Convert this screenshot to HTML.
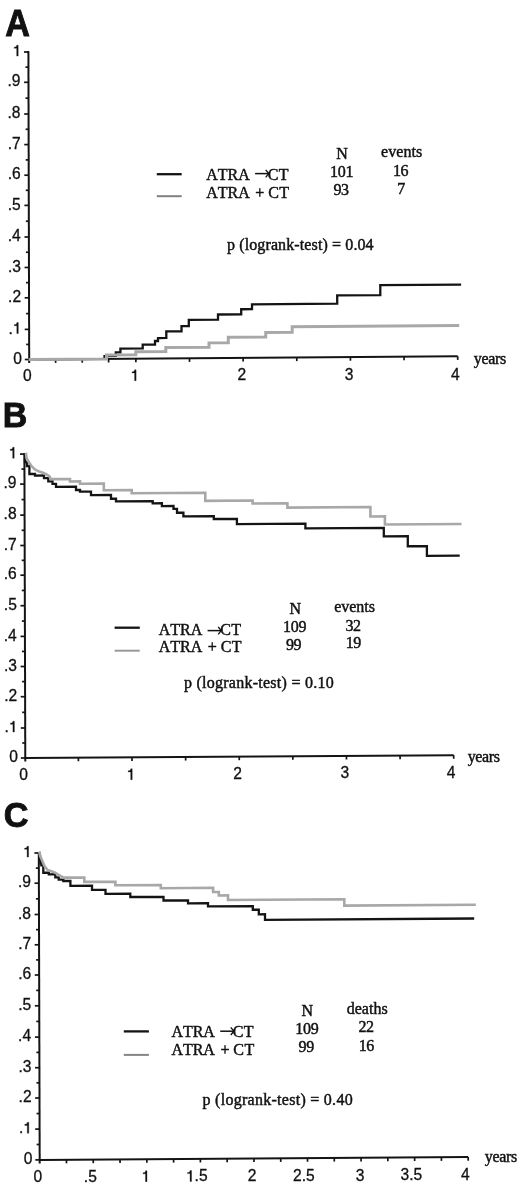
<!DOCTYPE html>
<html><head><meta charset="utf-8"><title>Cumulative incidence and survival curves</title>
<style>html,body{margin:0;padding:0;background:#fff;}svg{display:block;}text{font-kerning:none;font-feature-settings:"kern" 0, "liga" 0;}</style></head>
<body>
<svg width="520" height="1186" viewBox="0 0 520 1186">
<rect width="520" height="1186" fill="#fff"/>
<g opacity="0.999">
<text transform="matrix(0.9481 0 0 1.0053 5.20 35.55)" font-family='"Liberation Sans", sans-serif' font-size="36" font-weight="bold" fill="#111" stroke="#111" stroke-width="0.9">A</text>
<line x1="28.40" y1="51.00" x2="29.20" y2="363.10" stroke="#141414" stroke-width="2.00"/>
<line x1="24.00" y1="52.00" x2="28.40" y2="52.00" stroke="#141414" stroke-width="1.70"/>
<line x1="25.44" y1="67.15" x2="28.44" y2="67.15" stroke="#141414" stroke-width="1.70"/>
<polygon points="18.20,45.13 18.20,56.10 16.69,56.10 16.69,48.30 14.18,48.30 14.18,47.18 15.25,47.08 16.06,46.74 16.50,46.12 16.78,45.13" fill="#111" stroke="#111" stroke-width="0.30" stroke-linejoin="round"/>
<line x1="24.08" y1="82.30" x2="28.48" y2="82.30" stroke="#141414" stroke-width="1.70"/>
<line x1="25.52" y1="98.15" x2="28.52" y2="98.15" stroke="#141414" stroke-width="1.70"/>
<text x="7.51" y="86.40" font-family='"Liberation Sans", sans-serif' font-size="15.60" fill="#111" stroke="#111" stroke-width="0.30">.</text>
<text x="11.84" y="86.40" font-family='"Liberation Sans", sans-serif' font-size="15.60" fill="#111" stroke="#111" stroke-width="0.30">9</text>
<line x1="24.16" y1="114.00" x2="28.56" y2="114.00" stroke="#141414" stroke-width="1.70"/>
<line x1="25.60" y1="129.30" x2="28.60" y2="129.30" stroke="#141414" stroke-width="1.70"/>
<text x="7.53" y="118.10" font-family='"Liberation Sans", sans-serif' font-size="15.60" fill="#111" stroke="#111" stroke-width="0.30">.</text>
<text x="11.86" y="118.10" font-family='"Liberation Sans", sans-serif' font-size="15.60" fill="#111" stroke="#111" stroke-width="0.30">8</text>
<line x1="24.24" y1="144.60" x2="28.64" y2="144.60" stroke="#141414" stroke-width="1.70"/>
<line x1="25.68" y1="159.90" x2="28.68" y2="159.90" stroke="#141414" stroke-width="1.70"/>
<text x="7.72" y="148.70" font-family='"Liberation Sans", sans-serif' font-size="15.60" fill="#111" stroke="#111" stroke-width="0.30">.</text>
<text x="12.05" y="148.70" font-family='"Liberation Sans", sans-serif' font-size="15.60" fill="#111" stroke="#111" stroke-width="0.30">7</text>
<line x1="24.32" y1="175.20" x2="28.72" y2="175.20" stroke="#141414" stroke-width="1.70"/>
<line x1="25.76" y1="190.30" x2="28.76" y2="190.30" stroke="#141414" stroke-width="1.70"/>
<text x="7.70" y="179.30" font-family='"Liberation Sans", sans-serif' font-size="15.60" fill="#111" stroke="#111" stroke-width="0.30">.</text>
<text x="12.03" y="179.30" font-family='"Liberation Sans", sans-serif' font-size="15.60" fill="#111" stroke="#111" stroke-width="0.30">6</text>
<line x1="24.40" y1="205.40" x2="28.80" y2="205.40" stroke="#141414" stroke-width="1.70"/>
<line x1="25.84" y1="221.20" x2="28.84" y2="221.20" stroke="#141414" stroke-width="1.70"/>
<text x="7.74" y="209.50" font-family='"Liberation Sans", sans-serif' font-size="15.60" fill="#111" stroke="#111" stroke-width="0.30">.</text>
<text x="12.08" y="209.50" font-family='"Liberation Sans", sans-serif' font-size="15.60" fill="#111" stroke="#111" stroke-width="0.30">5</text>
<line x1="24.48" y1="237.00" x2="28.88" y2="237.00" stroke="#141414" stroke-width="1.70"/>
<line x1="25.92" y1="252.25" x2="28.92" y2="252.25" stroke="#141414" stroke-width="1.70"/>
<text x="7.63" y="241.10" font-family='"Liberation Sans", sans-serif' font-size="15.60" fill="#111" stroke="#111" stroke-width="0.30">.</text>
<text x="11.96" y="241.10" font-family='"Liberation Sans", sans-serif' font-size="15.60" fill="#111" stroke="#111" stroke-width="0.30">4</text>
<line x1="24.56" y1="267.50" x2="28.96" y2="267.50" stroke="#141414" stroke-width="1.70"/>
<line x1="26.00" y1="282.65" x2="29.00" y2="282.65" stroke="#141414" stroke-width="1.70"/>
<text x="7.94" y="271.60" font-family='"Liberation Sans", sans-serif' font-size="15.60" fill="#111" stroke="#111" stroke-width="0.30">.</text>
<text x="12.27" y="271.60" font-family='"Liberation Sans", sans-serif' font-size="15.60" fill="#111" stroke="#111" stroke-width="0.30">3</text>
<line x1="24.64" y1="297.80" x2="29.04" y2="297.80" stroke="#141414" stroke-width="1.70"/>
<line x1="26.08" y1="313.60" x2="29.08" y2="313.60" stroke="#141414" stroke-width="1.70"/>
<text x="8.11" y="301.90" font-family='"Liberation Sans", sans-serif' font-size="15.60" fill="#111" stroke="#111" stroke-width="0.30">.</text>
<text x="12.45" y="301.90" font-family='"Liberation Sans", sans-serif' font-size="15.60" fill="#111" stroke="#111" stroke-width="0.30">2</text>
<line x1="24.72" y1="329.40" x2="29.12" y2="329.40" stroke="#141414" stroke-width="1.70"/>
<line x1="26.16" y1="344.45" x2="29.16" y2="344.45" stroke="#141414" stroke-width="1.70"/>
<text x="8.39" y="333.50" font-family='"Liberation Sans", sans-serif' font-size="15.60" fill="#111" stroke="#111" stroke-width="0.30">.</text>
<polygon points="18.32,322.53 18.32,333.50 16.81,333.50 16.81,325.70 14.30,325.70 14.30,324.58 15.37,324.48 16.18,324.14 16.62,323.52 16.90,322.53" fill="#111" stroke="#111" stroke-width="0.30" stroke-linejoin="round"/>
<line x1="24.80" y1="359.50" x2="29.20" y2="359.50" stroke="#141414" stroke-width="1.70"/>
<text x="13.13" y="363.60" font-family='"Liberation Sans", sans-serif' font-size="15.60" fill="#111" stroke="#111" stroke-width="0.30">0</text>
<line x1="28.60" y1="359.50" x2="457.70" y2="356.30" stroke="#141414" stroke-width="2.00"/>
<line x1="55.60" y1="359.30" x2="55.60" y2="362.90" stroke="#141414" stroke-width="1.70"/>
<line x1="108.60" y1="358.90" x2="108.60" y2="362.50" stroke="#141414" stroke-width="1.70"/>
<line x1="82.24" y1="359.10" x2="82.24" y2="362.70" stroke="#141414" stroke-width="1.70"/>
<line x1="135.88" y1="358.70" x2="135.88" y2="362.30" stroke="#141414" stroke-width="1.70"/>
<line x1="189.51" y1="358.30" x2="189.51" y2="361.90" stroke="#141414" stroke-width="1.70"/>
<line x1="243.15" y1="357.90" x2="243.15" y2="361.50" stroke="#141414" stroke-width="1.70"/>
<line x1="296.79" y1="357.50" x2="296.79" y2="361.10" stroke="#141414" stroke-width="1.70"/>
<line x1="350.43" y1="357.10" x2="350.43" y2="360.70" stroke="#141414" stroke-width="1.70"/>
<line x1="404.06" y1="356.70" x2="404.06" y2="360.30" stroke="#141414" stroke-width="1.70"/>
<line x1="457.70" y1="356.30" x2="457.70" y2="359.90" stroke="#141414" stroke-width="1.70"/>
<text x="22.96" y="381.10" font-family='"Liberation Sans", sans-serif' font-size="15.60" fill="#111" stroke="#111" stroke-width="0.30">0</text>
<polygon points="136.11,369.76 136.11,380.73 134.60,380.73 134.60,372.93 132.09,372.93 132.09,371.80 133.16,371.71 133.98,371.37 134.41,370.74 134.69,369.76" fill="#111" stroke="#111" stroke-width="0.30" stroke-linejoin="round"/>
<text x="237.46" y="380.35" font-family='"Liberation Sans", sans-serif' font-size="15.60" fill="#111" stroke="#111" stroke-width="0.30">2</text>
<text x="344.71" y="379.97" font-family='"Liberation Sans", sans-serif' font-size="15.60" fill="#111" stroke="#111" stroke-width="0.30">3</text>
<text x="451.01" y="379.60" font-family='"Liberation Sans", sans-serif' font-size="15.60" fill="#111" stroke="#111" stroke-width="0.30">4</text>
<text x="473.83" y="363.50" font-family='"Liberation Serif", serif' font-size="16.00" font-weight="normal" fill="#111" letter-spacing="-0.309" stroke="#111" stroke-width="0.45">years</text>
<path d="M28.60 359.46 L104.50 358.94 L104.50 356.04 L115.80 355.96 L115.80 352.32 L120.40 352.28 L120.40 348.58 L142.70 348.42 L142.70 344.64 L155.00 344.56 L155.00 341.01 L158.00 340.99 L158.00 338.03 L166.30 337.97 L166.30 331.35 L181.50 331.25 L181.50 326.22 L188.80 326.18 L188.80 319.90 L218.00 319.70 L218.00 314.48 L241.20 314.32 L241.20 309.24 L252.00 309.16 L252.00 304.29 L337.20 303.71 L337.20 295.35 L380.30 295.05 L380.30 285.17 L461.10 284.63" fill="none" stroke="#141414" stroke-width="2.3" stroke-linejoin="miter" stroke-miterlimit="10"/>
<path d="M28.60 359.46 L106.50 358.94 L106.50 354.90 L135.80 354.70 L135.80 351.70 L165.80 351.50 L165.80 347.45 L209.00 347.15 L209.00 342.87 L228.30 342.73 L228.30 337.33 L265.70 337.07 L265.70 332.39 L292.20 332.21 L292.20 326.67 L459.20 325.53" fill="none" stroke="#a8a8a8" stroke-width="3.0" stroke-linejoin="miter" stroke-miterlimit="10"/>
<line x1="156.80" y1="174.20" x2="181.70" y2="174.20" stroke="#141414" stroke-width="2.30"/>
<line x1="156.80" y1="196.20" x2="181.70" y2="196.20" stroke="#808080" stroke-width="2.00"/>
<text x="206.37" y="179.50" font-family='"Liberation Serif", serif' font-size="16.00" font-weight="normal" fill="#111" letter-spacing="-0.044" stroke="#111" stroke-width="0.45">ATRA</text>
<line x1="255.10" y1="173.60" x2="268.40" y2="173.60" stroke="#111" stroke-width="1.50"/>
<path d="M265.70 169.80 L268.70 173.60 L265.70 177.40" fill="none" stroke="#111" stroke-width="1.35" stroke-linejoin="miter" stroke-miterlimit="10"/>
<text x="267.77" y="179.50" font-family='"Liberation Serif", serif' font-size="16.00" font-weight="normal" fill="#111" letter-spacing="0.227" stroke="#111" stroke-width="0.45">CT</text>
<text x="206.37" y="197.50" font-family='"Liberation Serif", serif' font-size="16.00" font-weight="normal" fill="#111" letter-spacing="-0.044" stroke="#111" stroke-width="0.45">ATRA</text>
<text x="255.33" y="197.50" font-family='"Liberation Serif", serif' font-size="16.00" font-weight="normal" fill="#111" stroke="#111" stroke-width="0.45">+</text>
<text x="268.27" y="197.50" font-family='"Liberation Serif", serif' font-size="16.00" font-weight="normal" fill="#111" letter-spacing="0.427" stroke="#111" stroke-width="0.45">CT</text>
<text x="336.20" y="158.60" font-family='"Liberation Serif", serif' font-size="16.00" font-weight="normal" fill="#111" stroke="#111" stroke-width="0.45">N</text>
<text x="381.10" y="157.40" font-family='"Liberation Serif", serif' font-size="16.00" font-weight="normal" fill="#111" letter-spacing="0.036" stroke="#111" stroke-width="0.45">events</text>
<text x="329.90" y="177.00" font-family='"Liberation Serif", serif' font-size="16.00" font-weight="normal" fill="#111" letter-spacing="-0.225" stroke="#111" stroke-width="0.45">101</text>
<text x="392.96" y="175.60" font-family='"Liberation Serif", serif' font-size="16.00" font-weight="normal" fill="#111" letter-spacing="-0.450" stroke="#111" stroke-width="0.45">16</text>
<text x="333.48" y="195.40" font-family='"Liberation Serif", serif' font-size="16.00" font-weight="normal" fill="#111" letter-spacing="-0.450" stroke="#111" stroke-width="0.45">93</text>
<text x="397.33" y="194.20" font-family='"Liberation Serif", serif' font-size="16.00" font-weight="normal" fill="#111" stroke="#111" stroke-width="0.45">7</text>
<text x="226.97" y="250.20" font-family='"Liberation Serif", serif' font-size="16.00" font-weight="normal" fill="#111" letter-spacing="0.116" stroke="#111" stroke-width="0.45">p (logrank-test) = 0.04</text>
<text transform="matrix(0.9428 0 0 0.9811 2.78 426.95)" font-family='"Liberation Sans", sans-serif' font-size="36" font-weight="bold" fill="#111" stroke="#111" stroke-width="0.9">B</text>
<line x1="24.40" y1="453.10" x2="25.30" y2="761.60" stroke="#141414" stroke-width="2.00"/>
<line x1="20.00" y1="454.10" x2="24.40" y2="454.10" stroke="#141414" stroke-width="1.70"/>
<line x1="21.44" y1="469.10" x2="24.44" y2="469.10" stroke="#141414" stroke-width="1.70"/>
<polygon points="14.20,447.23 14.20,458.20 12.69,458.20 12.69,450.40 10.18,450.40 10.18,449.28 11.25,449.18 12.06,448.84 12.50,448.22 12.78,447.23" fill="#111" stroke="#111" stroke-width="0.30" stroke-linejoin="round"/>
<line x1="20.09" y1="484.10" x2="24.49" y2="484.10" stroke="#141414" stroke-width="1.70"/>
<line x1="21.53" y1="499.60" x2="24.53" y2="499.60" stroke="#141414" stroke-width="1.70"/>
<text x="3.52" y="488.20" font-family='"Liberation Sans", sans-serif' font-size="15.60" fill="#111" stroke="#111" stroke-width="0.30">.</text>
<text x="7.85" y="488.20" font-family='"Liberation Sans", sans-serif' font-size="15.60" fill="#111" stroke="#111" stroke-width="0.30">9</text>
<line x1="20.18" y1="515.10" x2="24.58" y2="515.10" stroke="#141414" stroke-width="1.70"/>
<line x1="21.63" y1="530.30" x2="24.63" y2="530.30" stroke="#141414" stroke-width="1.70"/>
<text x="3.55" y="519.20" font-family='"Liberation Sans", sans-serif' font-size="15.60" fill="#111" stroke="#111" stroke-width="0.30">.</text>
<text x="7.88" y="519.20" font-family='"Liberation Sans", sans-serif' font-size="15.60" fill="#111" stroke="#111" stroke-width="0.30">8</text>
<line x1="20.27" y1="545.50" x2="24.67" y2="545.50" stroke="#141414" stroke-width="1.70"/>
<line x1="21.71" y1="560.35" x2="24.71" y2="560.35" stroke="#141414" stroke-width="1.70"/>
<text x="3.75" y="549.60" font-family='"Liberation Sans", sans-serif' font-size="15.60" fill="#111" stroke="#111" stroke-width="0.30">.</text>
<text x="8.08" y="549.60" font-family='"Liberation Sans", sans-serif' font-size="15.60" fill="#111" stroke="#111" stroke-width="0.30">7</text>
<line x1="20.36" y1="575.20" x2="24.76" y2="575.20" stroke="#141414" stroke-width="1.70"/>
<line x1="21.80" y1="590.45" x2="24.80" y2="590.45" stroke="#141414" stroke-width="1.70"/>
<text x="3.73" y="579.30" font-family='"Liberation Sans", sans-serif' font-size="15.60" fill="#111" stroke="#111" stroke-width="0.30">.</text>
<text x="8.07" y="579.30" font-family='"Liberation Sans", sans-serif' font-size="15.60" fill="#111" stroke="#111" stroke-width="0.30">6</text>
<line x1="20.45" y1="605.70" x2="24.85" y2="605.70" stroke="#141414" stroke-width="1.70"/>
<line x1="21.89" y1="621.05" x2="24.89" y2="621.05" stroke="#141414" stroke-width="1.70"/>
<text x="3.79" y="609.80" font-family='"Liberation Sans", sans-serif' font-size="15.60" fill="#111" stroke="#111" stroke-width="0.30">.</text>
<text x="8.13" y="609.80" font-family='"Liberation Sans", sans-serif' font-size="15.60" fill="#111" stroke="#111" stroke-width="0.30">5</text>
<line x1="20.54" y1="636.40" x2="24.94" y2="636.40" stroke="#141414" stroke-width="1.70"/>
<line x1="21.98" y1="651.45" x2="24.98" y2="651.45" stroke="#141414" stroke-width="1.70"/>
<text x="3.69" y="640.50" font-family='"Liberation Sans", sans-serif' font-size="15.60" fill="#111" stroke="#111" stroke-width="0.30">.</text>
<text x="8.02" y="640.50" font-family='"Liberation Sans", sans-serif' font-size="15.60" fill="#111" stroke="#111" stroke-width="0.30">4</text>
<line x1="20.63" y1="666.50" x2="25.03" y2="666.50" stroke="#141414" stroke-width="1.70"/>
<line x1="22.07" y1="681.60" x2="25.07" y2="681.60" stroke="#141414" stroke-width="1.70"/>
<text x="4.00" y="670.60" font-family='"Liberation Sans", sans-serif' font-size="15.60" fill="#111" stroke="#111" stroke-width="0.30">.</text>
<text x="8.34" y="670.60" font-family='"Liberation Sans", sans-serif' font-size="15.60" fill="#111" stroke="#111" stroke-width="0.30">3</text>
<line x1="20.72" y1="696.70" x2="25.12" y2="696.70" stroke="#141414" stroke-width="1.70"/>
<line x1="22.16" y1="712.35" x2="25.16" y2="712.35" stroke="#141414" stroke-width="1.70"/>
<text x="4.19" y="700.80" font-family='"Liberation Sans", sans-serif' font-size="15.60" fill="#111" stroke="#111" stroke-width="0.30">.</text>
<text x="8.53" y="700.80" font-family='"Liberation Sans", sans-serif' font-size="15.60" fill="#111" stroke="#111" stroke-width="0.30">2</text>
<line x1="20.81" y1="728.00" x2="25.21" y2="728.00" stroke="#141414" stroke-width="1.70"/>
<line x1="22.26" y1="743.00" x2="25.26" y2="743.00" stroke="#141414" stroke-width="1.70"/>
<text x="4.48" y="732.10" font-family='"Liberation Sans", sans-serif' font-size="15.60" fill="#111" stroke="#111" stroke-width="0.30">.</text>
<polygon points="14.41,721.13 14.41,732.10 12.90,732.10 12.90,724.30 10.39,724.30 10.39,723.18 11.46,723.08 12.27,722.74 12.71,722.12 12.99,721.13" fill="#111" stroke="#111" stroke-width="0.30" stroke-linejoin="round"/>
<line x1="20.90" y1="758.00" x2="25.30" y2="758.00" stroke="#141414" stroke-width="1.70"/>
<text x="9.23" y="762.10" font-family='"Liberation Sans", sans-serif' font-size="15.60" fill="#111" stroke="#111" stroke-width="0.30">0</text>
<line x1="24.80" y1="758.00" x2="453.70" y2="755.20" stroke="#141414" stroke-width="2.00"/>
<line x1="78.41" y1="757.65" x2="78.41" y2="761.25" stroke="#141414" stroke-width="1.70"/>
<line x1="132.03" y1="757.30" x2="132.03" y2="760.90" stroke="#141414" stroke-width="1.70"/>
<line x1="185.64" y1="756.95" x2="185.64" y2="760.55" stroke="#141414" stroke-width="1.70"/>
<line x1="239.25" y1="756.60" x2="239.25" y2="760.20" stroke="#141414" stroke-width="1.70"/>
<line x1="292.86" y1="756.25" x2="292.86" y2="759.85" stroke="#141414" stroke-width="1.70"/>
<line x1="346.47" y1="755.90" x2="346.47" y2="759.50" stroke="#141414" stroke-width="1.70"/>
<line x1="400.09" y1="755.55" x2="400.09" y2="759.15" stroke="#141414" stroke-width="1.70"/>
<line x1="453.70" y1="755.20" x2="453.70" y2="758.80" stroke="#141414" stroke-width="1.70"/>
<text x="19.31" y="780.40" font-family='"Liberation Sans", sans-serif' font-size="15.60" fill="#111" stroke="#111" stroke-width="0.30">0</text>
<polygon points="132.21,768.74 132.21,779.70 130.70,779.70 130.70,771.90 128.19,771.90 128.19,770.78 129.26,770.69 130.08,770.34 130.51,769.72 130.79,768.74" fill="#111" stroke="#111" stroke-width="0.30" stroke-linejoin="round"/>
<text x="233.36" y="779.00" font-family='"Liberation Sans", sans-serif' font-size="15.60" fill="#111" stroke="#111" stroke-width="0.30">2</text>
<text x="340.41" y="778.30" font-family='"Liberation Sans", sans-serif' font-size="15.60" fill="#111" stroke="#111" stroke-width="0.30">3</text>
<text x="446.81" y="777.60" font-family='"Liberation Sans", sans-serif' font-size="15.60" fill="#111" stroke="#111" stroke-width="0.30">4</text>
<text x="467.63" y="761.80" font-family='"Liberation Serif", serif' font-size="16.00" font-weight="normal" fill="#111" letter-spacing="-0.359" stroke="#111" stroke-width="0.45">years</text>
<path d="M24.60 454.20 L24.90 454.20 L24.90 462.01 L26.90 461.99 L26.90 466.01 L29.40 465.99 L29.40 474.02 L35.00 473.98 L35.00 475.53 L44.00 475.47 L44.00 478.21 L48.30 478.19 L48.30 481.31 L52.50 481.29 L52.50 483.81 L56.00 483.79 L56.00 486.87 L76.00 486.73 L76.00 490.01 L80.00 489.99 L80.00 491.64 L91.00 491.56 L91.00 495.07 L111.00 494.93 L111.00 498.72 L116.00 498.68 L116.00 501.42 L152.70 501.18 L152.70 503.33 L161.90 503.27 L161.90 506.04 L173.50 505.96 L173.50 508.91 L177.00 508.89 L177.00 512.72 L183.40 512.68 L183.40 516.30 L213.80 516.10 L213.80 518.98 L236.90 518.82 L236.90 524.03 L305.40 523.57 L305.40 528.37 L383.80 527.83 L383.80 536.28 L407.80 536.12 L407.80 546.26 L426.90 546.14 L426.90 555.91 L459.70 555.69" fill="none" stroke="#141414" stroke-width="2.3" stroke-linejoin="miter" stroke-miterlimit="10"/>
<path d="M26.00 452.60 L26.50 458.00 L29.00 462.50 L31.60 466.00 L34.50 469.20 L38.50 471.30 L43.00 472.80 L46.50 474.50 L49.50 476.50 L50.80 479.10 L50.80 479.17 L70.00 479.03 L70.00 481.43 L80.00 481.37 L80.00 483.78 L103.80 483.62 L103.80 490.19 L131.70 490.01 L131.70 493.25 L205.30 492.75 L205.30 500.86 L252.60 500.54 L252.60 503.52 L287.40 503.28 L287.40 507.58 L370.40 507.02 L370.40 516.45 L384.90 516.35 L384.90 524.46 L461.50 523.94" fill="none" stroke="#a8a8a8" stroke-width="2.6" stroke-linejoin="miter" stroke-miterlimit="10"/>
<line x1="114.60" y1="627.70" x2="139.80" y2="627.70" stroke="#141414" stroke-width="2.30"/>
<line x1="114.60" y1="650.70" x2="139.80" y2="650.70" stroke="#9a9a9a" stroke-width="2.00"/>
<text x="158.87" y="634.70" font-family='"Liberation Serif", serif' font-size="16.00" font-weight="normal" fill="#111" letter-spacing="-0.044" stroke="#111" stroke-width="0.45">ATRA</text>
<line x1="207.60" y1="630.60" x2="220.90" y2="630.60" stroke="#111" stroke-width="1.50"/>
<path d="M218.20 626.80 L221.20 630.60 L218.20 634.40" fill="none" stroke="#111" stroke-width="1.35" stroke-linejoin="miter" stroke-miterlimit="10"/>
<text x="220.27" y="634.70" font-family='"Liberation Serif", serif' font-size="16.00" font-weight="normal" fill="#111" letter-spacing="0.227" stroke="#111" stroke-width="0.45">CT</text>
<text x="158.87" y="652.00" font-family='"Liberation Serif", serif' font-size="16.00" font-weight="normal" fill="#111" letter-spacing="-0.044" stroke="#111" stroke-width="0.45">ATRA</text>
<text x="207.83" y="652.00" font-family='"Liberation Serif", serif' font-size="16.00" font-weight="normal" fill="#111" stroke="#111" stroke-width="0.45">+</text>
<text x="220.77" y="652.00" font-family='"Liberation Serif", serif' font-size="16.00" font-weight="normal" fill="#111" letter-spacing="0.427" stroke="#111" stroke-width="0.45">CT</text>
<text x="289.40" y="613.60" font-family='"Liberation Serif", serif' font-size="16.00" font-weight="normal" fill="#111" stroke="#111" stroke-width="0.45">N</text>
<text x="334.30" y="611.90" font-family='"Liberation Serif", serif' font-size="16.00" font-weight="normal" fill="#111" letter-spacing="-0.064" stroke="#111" stroke-width="0.45">events</text>
<text x="283.05" y="632.00" font-family='"Liberation Serif", serif' font-size="16.00" font-weight="normal" fill="#111" letter-spacing="-0.225" stroke="#111" stroke-width="0.45">109</text>
<text x="345.48" y="630.50" font-family='"Liberation Serif", serif' font-size="16.00" font-weight="normal" fill="#111" letter-spacing="-0.450" stroke="#111" stroke-width="0.45">32</text>
<text x="286.00" y="649.60" font-family='"Liberation Serif", serif' font-size="16.00" font-weight="normal" fill="#111" letter-spacing="-0.450" stroke="#111" stroke-width="0.45">99</text>
<text x="345.65" y="648.30" font-family='"Liberation Serif", serif' font-size="16.00" font-weight="normal" fill="#111" letter-spacing="-0.450" stroke="#111" stroke-width="0.45">19</text>
<text x="183.97" y="688.00" font-family='"Liberation Serif", serif' font-size="16.00" font-weight="normal" fill="#111" letter-spacing="0.255" stroke="#111" stroke-width="0.45">p (logrank-test) = 0.10</text>
<text transform="matrix(0.9517 0 0 0.9769 3.64 827.21)" font-family='"Liberation Sans", sans-serif' font-size="36" font-weight="bold" fill="#111" stroke="#111" stroke-width="0.9">C</text>
<line x1="38.80" y1="852.00" x2="39.70" y2="1163.50" stroke="#141414" stroke-width="2.00"/>
<line x1="34.40" y1="853.00" x2="38.80" y2="853.00" stroke="#141414" stroke-width="1.70"/>
<line x1="35.84" y1="868.10" x2="38.84" y2="868.10" stroke="#141414" stroke-width="1.70"/>
<polygon points="28.60,846.13 28.60,857.10 27.09,857.10 27.09,849.30 24.58,849.30 24.58,848.18 25.65,848.08 26.46,847.74 26.90,847.12 27.18,846.13" fill="#111" stroke="#111" stroke-width="0.30" stroke-linejoin="round"/>
<line x1="34.49" y1="883.20" x2="38.89" y2="883.20" stroke="#141414" stroke-width="1.70"/>
<line x1="35.93" y1="898.85" x2="38.93" y2="898.85" stroke="#141414" stroke-width="1.70"/>
<text x="17.92" y="887.30" font-family='"Liberation Sans", sans-serif' font-size="15.60" fill="#111" stroke="#111" stroke-width="0.30">.</text>
<text x="22.25" y="887.30" font-family='"Liberation Sans", sans-serif' font-size="15.60" fill="#111" stroke="#111" stroke-width="0.30">9</text>
<line x1="34.58" y1="914.50" x2="38.98" y2="914.50" stroke="#141414" stroke-width="1.70"/>
<line x1="36.02" y1="929.65" x2="39.02" y2="929.65" stroke="#141414" stroke-width="1.70"/>
<text x="17.95" y="918.60" font-family='"Liberation Sans", sans-serif' font-size="15.60" fill="#111" stroke="#111" stroke-width="0.30">.</text>
<text x="22.28" y="918.60" font-family='"Liberation Sans", sans-serif' font-size="15.60" fill="#111" stroke="#111" stroke-width="0.30">8</text>
<line x1="34.67" y1="944.80" x2="39.07" y2="944.80" stroke="#141414" stroke-width="1.70"/>
<line x1="36.11" y1="959.90" x2="39.11" y2="959.90" stroke="#141414" stroke-width="1.70"/>
<text x="18.14" y="948.90" font-family='"Liberation Sans", sans-serif' font-size="15.60" fill="#111" stroke="#111" stroke-width="0.30">.</text>
<text x="22.48" y="948.90" font-family='"Liberation Sans", sans-serif' font-size="15.60" fill="#111" stroke="#111" stroke-width="0.30">7</text>
<line x1="34.76" y1="975.00" x2="39.16" y2="975.00" stroke="#141414" stroke-width="1.70"/>
<line x1="36.20" y1="990.40" x2="39.20" y2="990.40" stroke="#141414" stroke-width="1.70"/>
<text x="18.13" y="979.10" font-family='"Liberation Sans", sans-serif' font-size="15.60" fill="#111" stroke="#111" stroke-width="0.30">.</text>
<text x="22.47" y="979.10" font-family='"Liberation Sans", sans-serif' font-size="15.60" fill="#111" stroke="#111" stroke-width="0.30">6</text>
<line x1="34.85" y1="1005.80" x2="39.25" y2="1005.80" stroke="#141414" stroke-width="1.70"/>
<line x1="36.29" y1="1021.45" x2="39.29" y2="1021.45" stroke="#141414" stroke-width="1.70"/>
<text x="18.19" y="1009.90" font-family='"Liberation Sans", sans-serif' font-size="15.60" fill="#111" stroke="#111" stroke-width="0.30">.</text>
<text x="22.53" y="1009.90" font-family='"Liberation Sans", sans-serif' font-size="15.60" fill="#111" stroke="#111" stroke-width="0.30">5</text>
<line x1="34.94" y1="1037.10" x2="39.34" y2="1037.10" stroke="#141414" stroke-width="1.70"/>
<line x1="36.38" y1="1052.40" x2="39.38" y2="1052.40" stroke="#141414" stroke-width="1.70"/>
<text x="18.09" y="1041.20" font-family='"Liberation Sans", sans-serif' font-size="15.60" fill="#111" stroke="#111" stroke-width="0.30">.</text>
<text x="22.42" y="1041.20" font-family='"Liberation Sans", sans-serif' font-size="15.60" fill="#111" stroke="#111" stroke-width="0.30">4</text>
<line x1="35.03" y1="1067.70" x2="39.43" y2="1067.70" stroke="#141414" stroke-width="1.70"/>
<line x1="36.47" y1="1082.85" x2="39.47" y2="1082.85" stroke="#141414" stroke-width="1.70"/>
<text x="18.41" y="1071.80" font-family='"Liberation Sans", sans-serif' font-size="15.60" fill="#111" stroke="#111" stroke-width="0.30">.</text>
<text x="22.74" y="1071.80" font-family='"Liberation Sans", sans-serif' font-size="15.60" fill="#111" stroke="#111" stroke-width="0.30">3</text>
<line x1="35.12" y1="1098.00" x2="39.52" y2="1098.00" stroke="#141414" stroke-width="1.70"/>
<line x1="36.56" y1="1113.55" x2="39.56" y2="1113.55" stroke="#141414" stroke-width="1.70"/>
<text x="18.59" y="1102.10" font-family='"Liberation Sans", sans-serif' font-size="15.60" fill="#111" stroke="#111" stroke-width="0.30">.</text>
<text x="22.93" y="1102.10" font-family='"Liberation Sans", sans-serif' font-size="15.60" fill="#111" stroke="#111" stroke-width="0.30">2</text>
<line x1="35.21" y1="1129.10" x2="39.61" y2="1129.10" stroke="#141414" stroke-width="1.70"/>
<line x1="36.65" y1="1144.50" x2="39.65" y2="1144.50" stroke="#141414" stroke-width="1.70"/>
<text x="18.88" y="1133.20" font-family='"Liberation Sans", sans-serif' font-size="15.60" fill="#111" stroke="#111" stroke-width="0.30">.</text>
<polygon points="28.81,1122.23 28.81,1133.20 27.30,1133.20 27.30,1125.40 24.78,1125.40 24.78,1124.28 25.86,1124.18 26.67,1123.84 27.11,1123.22 27.39,1122.23" fill="#111" stroke="#111" stroke-width="0.30" stroke-linejoin="round"/>
<line x1="35.30" y1="1159.90" x2="39.70" y2="1159.90" stroke="#141414" stroke-width="1.70"/>
<text x="23.63" y="1164.00" font-family='"Liberation Sans", sans-serif' font-size="15.60" fill="#111" stroke="#111" stroke-width="0.30">0</text>
<line x1="39.70" y1="1159.90" x2="468.20" y2="1157.10" stroke="#141414" stroke-width="2.00"/>
<line x1="66.48" y1="1159.73" x2="66.48" y2="1163.33" stroke="#141414" stroke-width="1.70"/>
<line x1="93.26" y1="1159.55" x2="93.26" y2="1163.15" stroke="#141414" stroke-width="1.70"/>
<line x1="120.04" y1="1159.38" x2="120.04" y2="1162.97" stroke="#141414" stroke-width="1.70"/>
<line x1="146.82" y1="1159.20" x2="146.82" y2="1162.80" stroke="#141414" stroke-width="1.70"/>
<line x1="173.61" y1="1159.03" x2="173.61" y2="1162.62" stroke="#141414" stroke-width="1.70"/>
<line x1="200.39" y1="1158.85" x2="200.39" y2="1162.45" stroke="#141414" stroke-width="1.70"/>
<line x1="227.17" y1="1158.67" x2="227.17" y2="1162.27" stroke="#141414" stroke-width="1.70"/>
<line x1="253.95" y1="1158.50" x2="253.95" y2="1162.10" stroke="#141414" stroke-width="1.70"/>
<line x1="280.73" y1="1158.33" x2="280.73" y2="1161.92" stroke="#141414" stroke-width="1.70"/>
<line x1="307.51" y1="1158.15" x2="307.51" y2="1161.75" stroke="#141414" stroke-width="1.70"/>
<line x1="334.29" y1="1157.97" x2="334.29" y2="1161.57" stroke="#141414" stroke-width="1.70"/>
<line x1="361.07" y1="1157.80" x2="361.07" y2="1161.40" stroke="#141414" stroke-width="1.70"/>
<line x1="387.86" y1="1157.62" x2="387.86" y2="1161.22" stroke="#141414" stroke-width="1.70"/>
<line x1="414.64" y1="1157.45" x2="414.64" y2="1161.05" stroke="#141414" stroke-width="1.70"/>
<line x1="441.42" y1="1157.27" x2="441.42" y2="1160.87" stroke="#141414" stroke-width="1.70"/>
<line x1="468.20" y1="1157.10" x2="468.20" y2="1160.70" stroke="#141414" stroke-width="1.70"/>
<text x="33.56" y="1182.20" font-family='"Liberation Sans", sans-serif' font-size="15.60" fill="#111" stroke="#111" stroke-width="0.30">0</text>
<text x="83.86" y="1181.94" font-family='"Liberation Sans", sans-serif' font-size="15.60" fill="#111" stroke="#111" stroke-width="0.30">.</text>
<text x="88.19" y="1181.94" font-family='"Liberation Sans", sans-serif' font-size="15.60" fill="#111" stroke="#111" stroke-width="0.30">5</text>
<polygon points="147.01,1170.71 147.01,1181.67 145.50,1181.67 145.50,1173.87 142.99,1173.87 142.99,1172.75 144.06,1172.66 144.88,1172.31 145.31,1171.69 145.59,1170.71" fill="#111" stroke="#111" stroke-width="0.30" stroke-linejoin="round"/>
<polygon points="191.55,1170.45 191.55,1181.42 190.04,1181.42 190.04,1173.62 187.52,1173.62 187.52,1172.49 188.60,1172.40 189.41,1172.06 189.85,1171.43 190.13,1170.45" fill="#111" stroke="#111" stroke-width="0.30" stroke-linejoin="round"/>
<text x="194.62" y="1181.42" font-family='"Liberation Sans", sans-serif' font-size="15.60" fill="#111" stroke="#111" stroke-width="0.30">.</text>
<text x="198.96" y="1181.42" font-family='"Liberation Sans", sans-serif' font-size="15.60" fill="#111" stroke="#111" stroke-width="0.30">5</text>
<text x="247.81" y="1181.15" font-family='"Liberation Sans", sans-serif' font-size="15.60" fill="#111" stroke="#111" stroke-width="0.30">2</text>
<text x="293.09" y="1180.89" font-family='"Liberation Sans", sans-serif' font-size="15.60" fill="#111" stroke="#111" stroke-width="0.30">2</text>
<text x="301.77" y="1180.89" font-family='"Liberation Sans", sans-serif' font-size="15.60" fill="#111" stroke="#111" stroke-width="0.30">.</text>
<text x="306.10" y="1180.89" font-family='"Liberation Sans", sans-serif' font-size="15.60" fill="#111" stroke="#111" stroke-width="0.30">5</text>
<text x="355.71" y="1180.62" font-family='"Liberation Sans", sans-serif' font-size="15.60" fill="#111" stroke="#111" stroke-width="0.30">3</text>
<text x="400.54" y="1180.37" font-family='"Liberation Sans", sans-serif' font-size="15.60" fill="#111" stroke="#111" stroke-width="0.30">3</text>
<text x="409.21" y="1180.37" font-family='"Liberation Sans", sans-serif' font-size="15.60" fill="#111" stroke="#111" stroke-width="0.30">.</text>
<text x="413.55" y="1180.37" font-family='"Liberation Sans", sans-serif' font-size="15.60" fill="#111" stroke="#111" stroke-width="0.30">5</text>
<text x="461.06" y="1180.10" font-family='"Liberation Sans", sans-serif' font-size="15.60" fill="#111" stroke="#111" stroke-width="0.30">4</text>
<text x="484.83" y="1161.90" font-family='"Liberation Serif", serif' font-size="16.00" font-weight="normal" fill="#111" letter-spacing="-0.359" stroke="#111" stroke-width="0.45">years</text>
<path d="M38.90 852.90 L39.40 852.90 L39.40 856.00 L40.00 856.00 L40.00 860.00 L40.60 860.00 L40.60 863.00 L41.30 863.00 L41.30 865.31 L43.30 865.29 L43.30 872.72 L48.80 872.68 L48.80 874.32 L55.30 874.28 L55.30 877.31 L58.70 877.29 L58.70 879.62 L63.30 879.58 L63.30 881.02 L70.40 880.98 L70.40 885.87 L92.00 885.73 L92.00 889.95 L105.50 889.85 L105.50 893.78 L130.30 893.62 L130.30 897.01 L163.50 896.79 L163.50 900.48 L188.00 900.32 L188.00 903.37 L208.00 903.23 L208.00 906.35 L252.80 906.05 L252.80 909.72 L258.80 909.68 L258.80 914.32 L265.00 914.28 L265.00 919.91 L474.20 918.49" fill="none" stroke="#141414" stroke-width="2.3" stroke-linejoin="miter" stroke-miterlimit="10"/>
<path d="M39.30 851.80 L40.20 856.00 L42.00 860.30 L44.50 866.00 L47.50 870.00 L52.00 871.50 L55.50 872.90 L58.10 874.60 L63.50 877.60 L63.50 877.67 L84.30 877.53 L84.30 881.91 L115.40 881.69 L115.40 885.25 L160.80 884.95 L160.80 888.18 L213.10 887.82 L213.10 892.02 L218.80 891.98 L218.80 895.43 L228.00 895.37 L228.00 900.00 L344.30 899.20 L344.30 905.65 L475.80 904.75" fill="none" stroke="#a8a8a8" stroke-width="2.6" stroke-linejoin="miter" stroke-miterlimit="10"/>
<line x1="123.80" y1="1031.40" x2="148.90" y2="1031.40" stroke="#141414" stroke-width="2.30"/>
<line x1="123.80" y1="1054.90" x2="148.90" y2="1054.90" stroke="#858585" stroke-width="2.00"/>
<text x="171.47" y="1036.70" font-family='"Liberation Serif", serif' font-size="16.00" font-weight="normal" fill="#111" letter-spacing="-0.044" stroke="#111" stroke-width="0.45">ATRA</text>
<line x1="220.20" y1="1031.20" x2="233.50" y2="1031.20" stroke="#111" stroke-width="1.50"/>
<path d="M230.80 1027.40 L233.80 1031.20 L230.80 1035.00" fill="none" stroke="#111" stroke-width="1.35" stroke-linejoin="miter" stroke-miterlimit="10"/>
<text x="232.87" y="1036.70" font-family='"Liberation Serif", serif' font-size="16.00" font-weight="normal" fill="#111" letter-spacing="0.227" stroke="#111" stroke-width="0.45">CT</text>
<text x="171.47" y="1054.50" font-family='"Liberation Serif", serif' font-size="16.00" font-weight="normal" fill="#111" letter-spacing="-0.044" stroke="#111" stroke-width="0.45">ATRA</text>
<text x="220.43" y="1054.50" font-family='"Liberation Serif", serif' font-size="16.00" font-weight="normal" fill="#111" stroke="#111" stroke-width="0.45">+</text>
<text x="233.37" y="1054.50" font-family='"Liberation Serif", serif' font-size="16.00" font-weight="normal" fill="#111" letter-spacing="0.427" stroke="#111" stroke-width="0.45">CT</text>
<text x="301.60" y="1015.90" font-family='"Liberation Serif", serif' font-size="16.00" font-weight="normal" fill="#111" stroke="#111" stroke-width="0.45">N</text>
<text x="346.65" y="1013.80" font-family='"Liberation Serif", serif' font-size="16.00" font-weight="normal" fill="#111" letter-spacing="0.046" stroke="#111" stroke-width="0.45">deaths</text>
<text x="295.25" y="1034.30" font-family='"Liberation Serif", serif' font-size="16.00" font-weight="normal" fill="#111" letter-spacing="-0.225" stroke="#111" stroke-width="0.45">109</text>
<text x="358.51" y="1032.20" font-family='"Liberation Serif", serif' font-size="16.00" font-weight="normal" fill="#111" letter-spacing="-0.450" stroke="#111" stroke-width="0.45">22</text>
<text x="298.60" y="1051.80" font-family='"Liberation Serif", serif' font-size="16.00" font-weight="normal" fill="#111" letter-spacing="-0.450" stroke="#111" stroke-width="0.45">99</text>
<text x="358.76" y="1050.80" font-family='"Liberation Serif", serif' font-size="16.00" font-weight="normal" fill="#111" letter-spacing="-0.450" stroke="#111" stroke-width="0.45">16</text>
<text x="202.57" y="1105.10" font-family='"Liberation Serif", serif' font-size="16.00" font-weight="normal" fill="#111" letter-spacing="0.273" stroke="#111" stroke-width="0.45">p (logrank-test) = 0.40</text>
</g>
</svg>
</body></html>
